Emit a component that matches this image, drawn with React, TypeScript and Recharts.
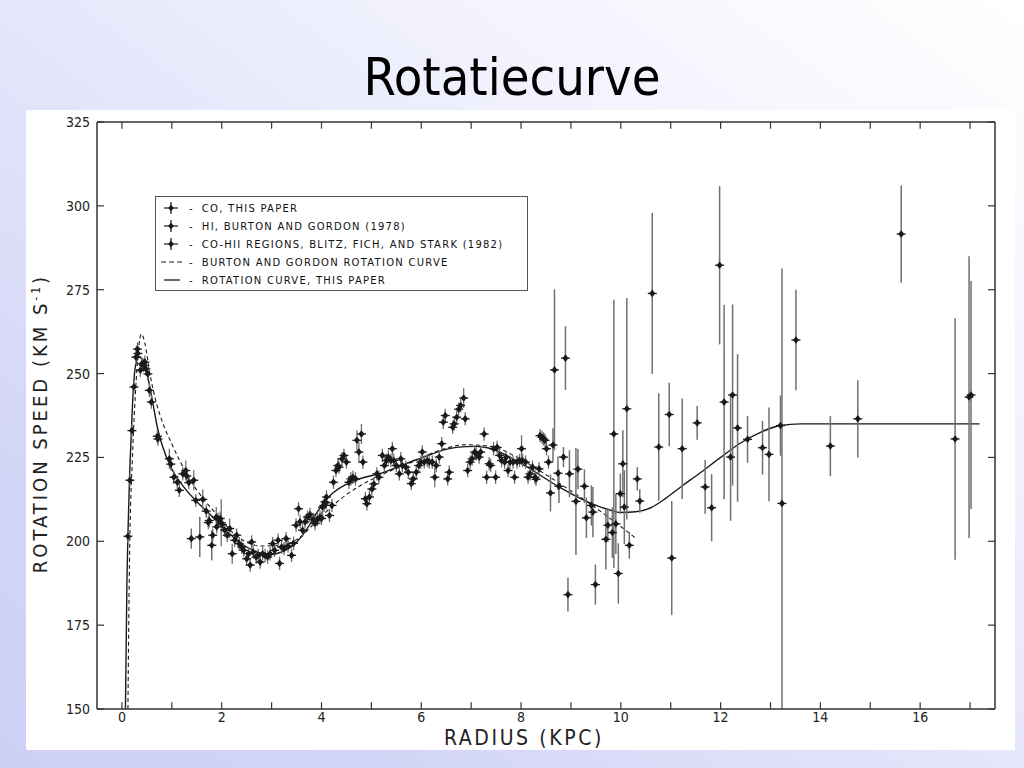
import { ComposedChart, ErrorBar, Label, Line, ReferenceLine, Scatter, XAxis, YAxis } from "recharts";

// [radius kpc, speed km/s, error km/s (or [down, up])]
type Pt = [number, number, number | [number, number]];

const HI_POINTS: Pt[] = [
  [0.12, 201.5, 2], [0.16, 218.2, 2], [0.2, 233, 2], [0.24, 246, 2], [0.28, 254.9, 2],
  [0.31, 257.3, 2], [0.32, 256, 2], [0.95, 224.6, 3], [1.22, 220.1, 2], [1.28, 221.1, 3],
];

const CO_POINTS: Pt[] = [
  [0.37, 251, 2], [0.4, 252.9, 2], [0.43, 252.5, 2], [0.46, 253.4, 2], [0.48, 251.4, 2],
  [0.52, 249.9, 2], [0.55, 245, 2], [0.59, 241.5, 2], [0.71, 231.3, 2], [0.72, 230.5, 2],
  [0.98, 223, 2], [1.04, 219.1, 2], [1.11, 217.6, 2], [1.15, 215.2, 2], [1.3, 219.5, 2],
  [1.34, 217.5, 2], [1.44, 218.2, 3], [1.48, 212.2, 2], [1.62, 212.5, 3], [1.69, 209, 2],
  [1.73, 205.6, 2], [1.75, 206.2, 2], [1.82, 201.8, 2], [1.89, 207.2, 3], [1.9, 204.3, 2],
  [1.93, 206.5, 2], [1.97, 206.8, 2], [1.99, 205.5, 7], [2.01, 205, 2], [2.06, 203.3, 2],
  [2.11, 201.8, 2], [2.16, 203.8, 3], [2.21, 196.3, 3], [2.26, 200.3, 2], [2.3, 201.8, 2],
  [2.35, 199.3, 2], [2.4, 198.3, 2], [2.44, 197.3, 2], [2.5, 194.8, 2], [2.54, 196.3, 2],
  [2.57, 192.9, 2], [2.6, 199.8, 2], [2.63, 196.8, 2], [2.69, 195.3, 2], [2.73, 195.8, 2],
  [2.77, 193.8, 2], [2.82, 196.3, 2], [2.87, 195.8, 2], [2.92, 195.3, 2], [2.97, 196.3, 2],
  [3.02, 199.3, 2], [3.06, 197.3, 2], [3.13, 200.3, 2], [3.16, 193.4, 2], [3.2, 198.3, 2],
  [3.25, 197.8, 2], [3.29, 200.8, 2], [3.33, 198.6, 2], [3.4, 195.8, 2], [3.44, 199.4, 2],
  [3.49, 204.8, 2], [3.54, 209.7, 2], [3.57, 205.8, 2], [3.62, 203.3, 2], [3.67, 205.8, 2],
  [3.72, 207.2, 2], [3.77, 208, 2], [3.83, 206.5, 2], [3.87, 205.3, 2], [3.92, 206.5, 2],
  [3.97, 207.2, 2], [4.0, 206.8, 2], [4.02, 210.2, 2], [4.05, 210.7, 2], [4.07, 211.7, 2],
  [4.09, 211.5, 2], [4.1, 213.2, 2], [4.16, 207.7, 2], [4.21, 210.7, 2], [4.24, 217.6, 2],
  [4.29, 221.1, 2], [4.33, 222.6, 2], [4.35, 222.1, 2], [4.41, 224.6, 2], [4.45, 225.6, 2],
  [4.5, 223.6, 2], [4.55, 217.6, 2], [4.59, 218.6, 2], [4.63, 219.1, 2], [4.68, 218.6, 2],
  [4.71, 230.1, 3], [4.75, 226.6, 3], [4.8, 232, 3], [4.83, 223.6, 2], [4.88, 212.7, 2],
  [4.91, 211.2, 2], [4.96, 213.2, 2], [5.01, 215.6, 2], [5.05, 217.1, 2], [5.11, 220.1, 2],
  [5.15, 219.1, 2], [5.22, 225.6, 2], [5.26, 222.6, 2], [5.3, 224.1, 2], [5.34, 225.1, 2],
  [5.39, 224.1, 2], [5.42, 227.6, 2], [5.45, 224.1, 2], [5.5, 222.6, 2], [5.56, 220.1, 2],
  [5.59, 224.6, 2], [5.62, 222.6, 2], [5.69, 222.1, 2], [5.74, 220.6, 2], [5.8, 217.2, 2],
  [5.84, 218.6, 2], [5.9, 220.6, 2], [5.95, 222.6, 2], [5.99, 223.6, 2], [6.02, 226.6, 2],
  [6.06, 223.6, 2], [6.12, 224.1, 2], [6.16, 223.6, 2], [6.22, 223.6, 2], [6.27, 219.1, 3],
  [6.3, 222.6, 2], [6.36, 225.1, 2], [6.41, 229.1, 2], [6.44, 235.5, 2], [6.48, 237.5, 2],
  [6.53, 218.6, 2], [6.56, 220.6, 2], [6.63, 234, 2], [6.66, 235, 2], [6.71, 237, 2],
  [6.75, 239.4, 2], [6.79, 240.5, 2], [6.85, 242.7, 3], [6.88, 236.5, 2], [6.93, 221.1, 2],
  [6.98, 223.6, 2], [7.02, 224.6, 2], [7.07, 226.6, 2], [7.1, 226.1, 2], [7.16, 225.1, 2],
  [7.19, 226.6, 2], [7.26, 232, 2], [7.31, 219.1, 2], [7.36, 223.1, 2], [7.39, 222.6, 2],
  [7.45, 227.6, 2], [7.49, 219.1, 2], [7.52, 228, 2], [7.57, 225.6, 2], [7.61, 224.1, 2],
  [7.67, 223.6, 2], [7.7, 225, 2], [7.74, 221.1, 2], [7.78, 223.6, 2], [7.84, 223.6, 2],
  [7.87, 219.1, 2], [7.92, 223.6, 2], [7.97, 224.1, 2], [8.01, 227.6, 4], [8.03, 224.1, 2],
  [8.09, 223.6, 2], [8.14, 219.1, 2], [8.18, 220.1, 2], [8.23, 222.1, 2], [8.28, 219.1, 2],
  [8.3, 218.5, 2], [8.36, 221.6, 2], [8.38, 231.5, 2], [8.42, 231, 2], [8.45, 230.5, 2],
  [8.48, 230.1, 2], [8.51, 227.6, 2], [8.55, 223.6, 2],
];

const HII_POINTS: Pt[] = [
  [1.39, 200.8, 3], [1.56, 201.3, 6], [1.8, 198.8, 4.5],
  [8.59, 214.4, 5.5], [8.64, 228.7, 5], [8.67, 251.1, 24], [8.74, 220.3, 5], [8.76, 216.4, 5],
  [8.85, 225.1, 3], [8.89, 254.6, 9.5], [8.94, 184.1, 5], [8.97, 220.1, 7], [9.1, 211.9, 16],
  [9.14, 221.5, 6], [9.27, 216.4, 5], [9.31, 207, 6], [9.41, 210.7, 6], [9.44, 208.7, 7.5],
  [9.49, 187.1, 6], [9.7, 200.6, 9], [9.74, 204.8, 5], [9.83, 202.6, 7.5], [9.86, 232, 40],
  [9.9, 205.2, 9], [9.95, 190.4, 9], [9.99, 214.2, 6], [10.04, 223.1, 10], [10.07, 210.2, 11],
  [10.12, 239.5, 33], [10.17, 198.8, 4], [10.33, 218.6, 3.5], [10.38, 212, 3.5],
  [10.63, 273.9, 24], [10.76, 228.1, 16], [10.97, 237.8, 9.5], [11.02, 195, 17],
  [11.23, 227.6, 15], [11.53, 235.3, 5], [11.69, 216.2, 8], [11.82, 210, 10],
  [11.98, 282.3, 23.6], [12.07, 241.5, 29], [12.2, 225.1, 19], [12.24, 243.6, 27],
  [12.34, 233.8, 22], [12.54, 230.4, 7], [12.84, 227.9, 8], [12.97, 225.9, 14],
  [13.2, 234.5, 9], [13.23, 211.3, [61.3, 70]], [13.51, 260, 15], [14.2, 228.4, 9],
  [14.75, 236.5, 11.5], [15.62, 291.6, 14.5], [16.7, 230.5, 36], [16.98, 243, 42],
  [17.02, 243.6, 34],
];

// Burton & Gordon rotation curve (dashed)
const BG_CURVE: [number, number][] = [
  [0.12, 150], [0.15, 193], [0.21, 225], [0.27, 244], [0.33, 257], [0.39, 261.8],
  [0.46, 259], [0.56, 250], [0.66, 243], [0.8, 236], [1.0, 229], [1.34, 219],
  [1.88, 208.3], [2.35, 201], [2.8, 198.6], [3.2, 198.8], [3.5, 200.5], [4.0, 207.5],
  [4.4, 212.8], [4.8, 216.8], [5.2, 219.8], [5.8, 223.5], [6.4, 227.3], [6.9, 228.8],
  [7.4, 228.3], [7.9, 225.2], [8.4, 220.8], [8.9, 216], [9.4, 211], [9.9, 205.5], [10.31, 200.8],
];

// rotation curve, this paper (solid)
const THIS_CURVE: [number, number][] = [
  [0.07, 150], [0.1, 188], [0.12, 202], [0.15, 218], [0.19, 233], [0.23, 246],
  [0.29, 253.5], [0.35, 255], [0.41, 254], [0.51, 249.5], [0.61, 242], [0.71, 234],
  [0.81, 228.5], [1.0, 221.5], [1.25, 216], [1.5, 211.8], [1.75, 208.3], [2.0, 204.5],
  [2.25, 201], [2.5, 198.3], [2.75, 196.6], [2.95, 196], [3.2, 196.8], [3.45, 199],
  [3.7, 203.5], [3.95, 209.5], [4.2, 214], [4.5, 217], [4.8, 218.8], [5.15, 220.1],
  [5.9, 224.3], [6.7, 228], [7.1, 228.3], [7.35, 227.8], [8.1, 222.3], [8.75, 216.3],
  [9.3, 212], [9.7, 209.7], [10.0, 208.6], [10.3, 208.8], [10.6, 210], [10.9, 212.8],
  [11.2, 216.2], [11.6, 220.5], [12.0, 225], [12.4, 229.3], [12.8, 232.5], [13.2, 234.5],
  [13.6, 235], [17.19, 235],
];

const X_DOMAIN: [number, number] = [-0.5, 17.5];
const Y_DOMAIN: [number, number] = [150, 325];
const X_TICKS = [0, 1, 2, 3, 4, 5, 6, 7, 8, 9, 10, 11, 12, 13, 14, 15, 16, 17];
const Y_TICKS = [150, 175, 200, 225, 250, 275, 300, 325];
// inward tick length, in data units
const X_TICK_LEN = 2;
const Y_TICK_LEN = 0.14;

const LEGEND_ROWS = [
  { glyph: "point", text: "CO, THIS PAPER" },
  { glyph: "point", text: "HI, BURTON AND GORDON (1978)" },
  { glyph: "point", text: "CO-HII REGIONS, BLITZ, FICH, AND STARK (1982)" },
  { glyph: "short", text: "BURTON AND GORDON ROTATION CURVE" },
  { glyph: "long", text: "ROTATION CURVE, THIS PAPER" },
];

const FONT = "'DejaVu Sans Condensed', 'Liberation Sans Narrow', 'DejaVu Sans', sans-serif";
const INK = "#1a1a1a";
const FRAME = "#333";

const rows = (pts: Pt[]) => pts.map(([r, v, e]) => ({ r, v, e }));
const curve = (pts: [number, number][]) => pts.map(([r, v]) => ({ r, v }));

function Marker(props: any) {
  const { cx, cy } = props;
  if (cx == null || cy == null) return <g />;
  return (
    <g>
      <line x1={cx - 4.5} x2={cx + 4.5} y1={cy} y2={cy} stroke={INK} strokeWidth={1.3} />
      <path d={`M${cx},${cy - 3.8}L${cx + 3},${cy}L${cx},${cy + 3.8}L${cx - 3},${cy}Z`} fill={INK} />
    </g>
  );
}

function LegendGlyph({ kind }: { kind: string }) {
  return (
    <svg width={24} height={14} style={{ display: "block" }}>
      {kind === "point" && (
        <g>
          <line x1={4} x2={18} y1={7} y2={7} stroke={INK} strokeWidth={1.2} />
          <line x1={11} x2={11} y1={1} y2={13} stroke={INK} strokeWidth={1.2} />
          <path d="M11,3.5L13.8,7L11,10.5L8.2,7Z" fill={INK} />
        </g>
      )}
      {kind === "short" && (
        <line x1={1} x2={23} y1={7} y2={7} stroke={INK} strokeWidth={1.2} strokeDasharray="5 3" />
      )}
      {kind === "long" && <line x1={4} x2={20} y1={7} y2={7} stroke={INK} strokeWidth={1.3} />}
    </svg>
  );
}

function ChartLegend() {
  return (
    <div
      style={{
        position: "absolute",
        left: 129,
        top: 86,
        width: 371,
        height: 93,
        border: "1px solid #555",
        background: "#fff",
        fontFamily: "'DejaVu Sans', sans-serif",
        fontSize: 10,
        letterSpacing: 1.25,
        color: "#111",
      }}
    >
      {LEGEND_ROWS.map((row, i) => (
        <div
          key={row.text}
          style={{ position: "absolute", left: 4, top: 4 + i * 18, display: "flex", alignItems: "center", height: 14 }}
        >
          <LegendGlyph kind={row.glyph} />
          <span style={{ marginLeft: 5, marginRight: 8 }}>-</span>
          <span>{row.text}</span>
        </div>
      ))}
    </div>
  );
}

const axisLine = { stroke: FRAME, strokeWidth: 1.5 };

export default function App() {
  return (
    <div
      style={{
        position: "absolute",
        left: 0,
        top: 0,
        width: 1024,
        height: 768,
        overflow: "hidden",
        background: "linear-gradient(to bottom left, #ffffff 0%, #f1f2fd 30%, #d3d5f7 80%, #cdd0f5 100%)",
      }}
    >
      <div
        style={{
          position: "absolute",
          top: 47,
          left: 0,
          width: 1024,
          textAlign: "center",
          fontFamily: FONT,
          fontSize: 52,
          lineHeight: "60px",
          color: "#000",
        }}
      >
        Rotatiecurve
      </div>
      <div style={{ position: "absolute", left: 26, top: 110, width: 989, height: 640, background: "#fff", overflow: "hidden" }}>
        <ComposedChart width={989} height={640} margin={{ top: 12, right: 20, bottom: 1, left: 11 }}>
          <XAxis
            type="number"
            dataKey="r"
            domain={X_DOMAIN}
            allowDataOverflow
            ticks={X_TICKS}
            interval={0}
            tickFormatter={(v: number) => (v % 2 === 0 ? String(v) : "")}
            tickSize={0}
            tickLine={false}
            tickMargin={3}
            height={40}
            axisLine={axisLine}
            tick={{ fontSize: 14, fill: "#222", fontFamily: FONT }}
          >
            <Label
              content={(p: any) => (
                <text
                  x={p.viewBox.x + p.viewBox.width / 2 - 22}
                  y={p.viewBox.y + 36}
                  textAnchor="middle"
                  fontFamily={FONT}
                  fontSize={21}
                  letterSpacing={2.6}
                  fill="#222"
                >
                  RADIUS (KPC)
                </text>
              )}
            />
          </XAxis>
          <YAxis
            type="number"
            domain={Y_DOMAIN}
            allowDataOverflow
            ticks={Y_TICKS}
            interval={0}
            tickSize={0}
            tickLine={false}
            tickMargin={7}
            width={60}
            axisLine={axisLine}
            tick={{ fontSize: 14, fill: "#222", fontFamily: FONT }}
          >
            <Label
              content={(p: any) => {
                const x = p.viewBox.x + 10;
                const y = p.viewBox.y + p.viewBox.height / 2 + 8;
                return (
                  <text
                    x={x}
                    y={y}
                    transform={`rotate(-90, ${x}, ${y})`}
                    textAnchor="middle"
                    fontFamily={FONT}
                    fontSize={20}
                    letterSpacing={3}
                    fill="#222"
                  >
                    ROTATION SPEED (KM S
                    <tspan dy={-7} fontSize={12}>-1</tspan>
                    <tspan dy={7}>)</tspan>
                  </text>
                );
              }}
            />
          </YAxis>

          {/* top and right frame with inward ticks */}
          <ReferenceLine y={Y_DOMAIN[1]} stroke={FRAME} strokeWidth={1.5} />
          <ReferenceLine x={X_DOMAIN[1]} stroke={FRAME} strokeWidth={1.5} />
          {X_TICKS.map((t) => (
            <ReferenceLine
              key={`xb${t}`}
              segment={[{ x: t, y: Y_DOMAIN[0] }, { x: t, y: Y_DOMAIN[0] + X_TICK_LEN }]}
              stroke={FRAME}
              strokeWidth={1.2}
            />
          ))}
          {X_TICKS.map((t) => (
            <ReferenceLine
              key={`xt${t}`}
              segment={[{ x: t, y: Y_DOMAIN[1] }, { x: t, y: Y_DOMAIN[1] - X_TICK_LEN }]}
              stroke={FRAME}
              strokeWidth={1.2}
            />
          ))}
          {Y_TICKS.map((t) => (
            <ReferenceLine
              key={`yl${t}`}
              segment={[{ x: X_DOMAIN[0], y: t }, { x: X_DOMAIN[0] + Y_TICK_LEN, y: t }]}
              stroke={FRAME}
              strokeWidth={1.2}
            />
          ))}
          {Y_TICKS.map((t) => (
            <ReferenceLine
              key={`yr${t}`}
              segment={[{ x: X_DOMAIN[1], y: t }, { x: X_DOMAIN[1] - Y_TICK_LEN, y: t }]}
              stroke={FRAME}
              strokeWidth={1.2}
            />
          ))}

          <Line
            data={curve(BG_CURVE)}
            dataKey="v"
            type="monotone"
            dot={false}
            stroke={INK}
            strokeWidth={1.1}
            strokeDasharray="4 3"
            isAnimationActive={false}
          />
          <Line
            data={curve(THIS_CURVE)}
            dataKey="v"
            type="monotone"
            dot={false}
            stroke={INK}
            strokeWidth={1.4}
            isAnimationActive={false}
          />
          <Scatter data={rows(HII_POINTS)} dataKey="v" shape={Marker} isAnimationActive={false}>
            <ErrorBar dataKey="e" direction="y" width={0} stroke="#707070" strokeWidth={1.5} />
          </Scatter>
          <Scatter data={rows(HI_POINTS)} dataKey="v" shape={Marker} isAnimationActive={false}>
            <ErrorBar dataKey="e" direction="y" width={0} stroke="#707070" strokeWidth={1.3} />
          </Scatter>
          <Scatter data={rows(CO_POINTS)} dataKey="v" shape={Marker} isAnimationActive={false}>
            <ErrorBar dataKey="e" direction="y" width={0} stroke="#707070" strokeWidth={1.3} />
          </Scatter>
        </ComposedChart>
        <ChartLegend />
      </div>
    </div>
  );
}
